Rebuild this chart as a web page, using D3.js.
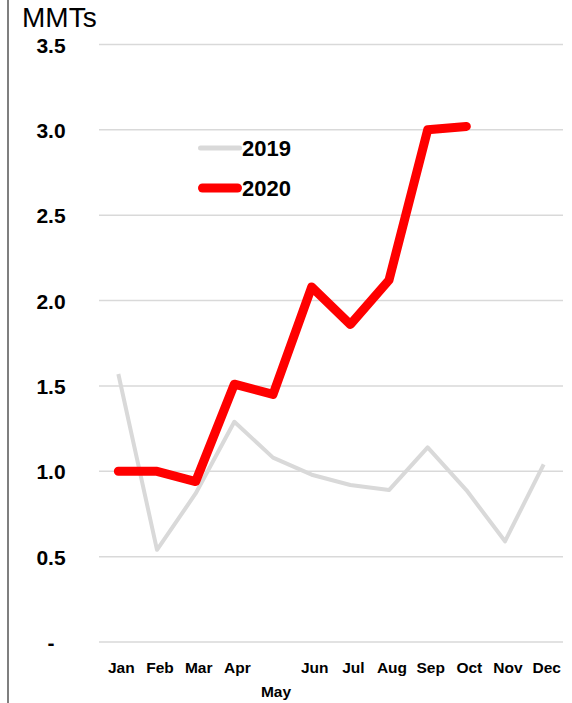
<!DOCTYPE html>
<html>
<head>
<meta charset="utf-8">
<script src="https://cdn.jsdelivr.net/npm/d3@7"></script>
<style>
  body { margin: 0; background: #fff; }
  svg { display: block; }
</style>
</head>
<body>
<svg width="572" height="703"></svg>
<script>
const MONTHS = ['Jan','Feb','Mar','Apr','May','Jun','Jul','Aug','Sep','Oct','Nov','Dec'];
const VALUES_2019 = [1.57,0.54,0.87,1.29,1.08,0.98,0.92,0.89,1.14,0.89,0.59,1.04];
const VALUES_2020 = [1.0,1.0,0.94,1.51,1.45,2.08,1.86,2.12,3.0,3.02];
const Y_TICKS = [0,0.5,1,1.5,2,2.5,3,3.5];
const Y_LABELS = ['-','0.5','1.0','1.5','2.0','2.5','3.0','3.5'];

const svg = d3.select('svg');

// frame line on the left
svg.append('line')
  .attr('x1',8).attr('x2',8).attr('y1',0).attr('y2',703)
  .attr('stroke','#7f7f7f').attr('stroke-width',2);

const x = d3.scaleBand()
  .domain(MONTHS)
  .range([99,563]);

const y = d3.scaleLinear()
  .domain([0,3.5])
  .range([642,44.5]);

// gridlines
svg.selectAll('.grid')
  .data(Y_TICKS)
  .enter()
  .append('line')
  .attr('x1',99).attr('x2',563)
  .attr('y1',d=>y(d)).attr('y2',d=>y(d))
  .attr('stroke','#d9d9d9').attr('stroke-width',1.5);

// y labels
svg.selectAll('.ylab')
  .data(Y_TICKS)
  .enter()
  .append('text')
  .text((d,i)=>Y_LABELS[i])
  .attr('x',51)
  .attr('y',d=>y(d)+8)
  .attr('text-anchor','middle')
  .attr('font-family','Liberation Sans, Arial, sans-serif')
  .attr('font-weight','bold')
  .attr('font-size',21)
  .attr('fill','#000');

// x labels (May drops to a second row)
svg.selectAll('.xlab')
  .data(MONTHS)
  .enter()
  .append('text')
  .text(d=>d)
  .attr('x',d=>x(d)+x.bandwidth()/2+3)
  .attr('y',d=>d=='May' ? 697 : 673)
  .attr('text-anchor','middle')
  .attr('font-family','Liberation Sans, Arial, sans-serif')
  .attr('font-weight','bold')
  .attr('font-size',15.5)
  .attr('fill','#000');

svg.append('text')
  .text('MMTs')
  .attr('x',22).attr('y',27)
  .attr('font-family','Liberation Sans, Arial, sans-serif')
  .attr('font-size',28)
  .attr('fill','#000');

const line = d3.line()
  .x((d,i)=>x(MONTHS[i])+x.bandwidth()/2)
  .y(d=>y(d));

svg.append('path')
  .datum(VALUES_2019)
  .attr('d',line)
  .attr('fill','none')
  .attr('stroke','#d9d9d9')
  .attr('stroke-width',4)
  .attr('stroke-linejoin','round');

svg.append('path')
  .datum(VALUES_2020)
  .attr('d',line)
  .attr('fill','none')
  .attr('stroke','#ff0000')
  .attr('stroke-width',9)
  .attr('stroke-linejoin','round')
  .attr('stroke-linecap','round');

// legend
const legend = [
  {name:'2019', color:'#d9d9d9', width:5, y:148},
  {name:'2020', color:'#ff0000', width:9, y:188}
];
legend.forEach(function(l){
  svg.append('line')
    .attr('x1',198 + l.width/2).attr('x2',242 - l.width/2)
    .attr('y1',l.y).attr('y2',l.y)
    .attr('stroke',l.color).attr('stroke-width',l.width)
    .attr('stroke-linecap','round');
  svg.append('text')
    .text(l.name)
    .attr('x',242).attr('y',l.y+8)
    .attr('font-family','Liberation Sans, Arial, sans-serif')
    .attr('font-weight','bold')
    .attr('font-size',22)
    .attr('fill','#000');
});
</script>
</body>
</html>
